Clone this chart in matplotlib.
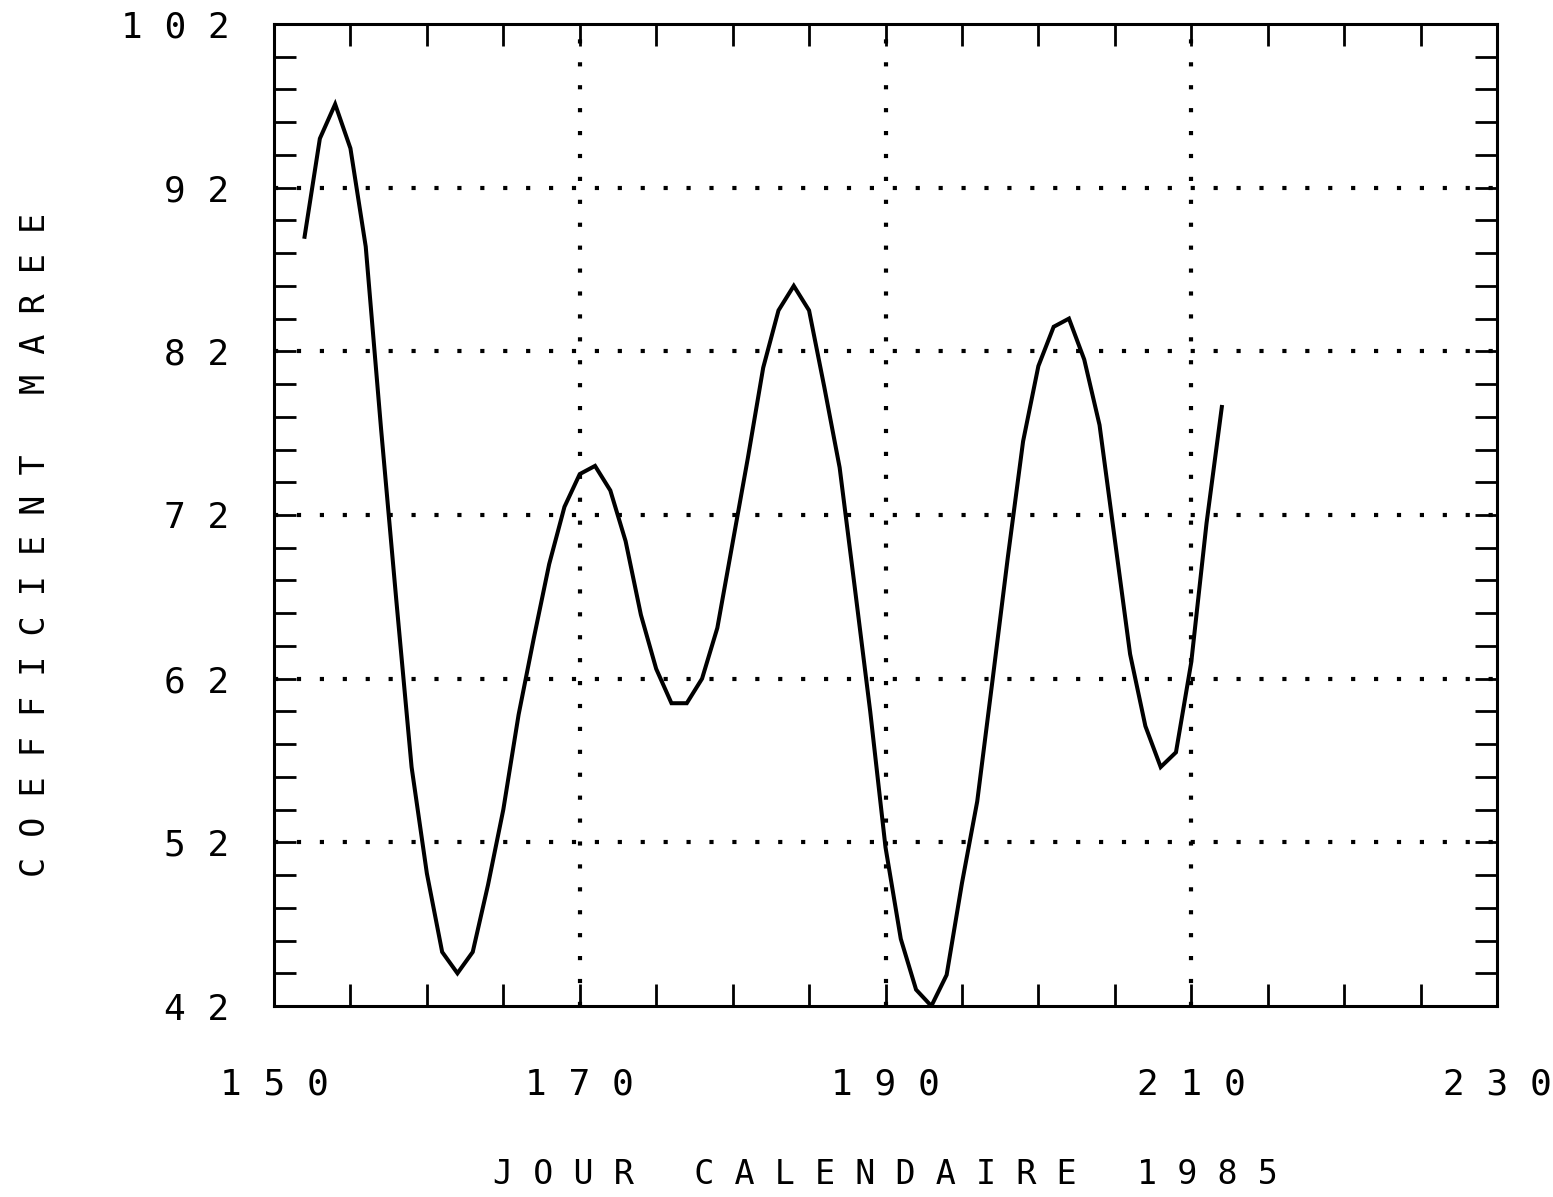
import matplotlib
matplotlib.use("Agg")
import matplotlib.pyplot as plt
from matplotlib.ticker import MultipleLocator, FixedLocator, FuncFormatter

plt.rcParams['lines.scale_dashes'] = False

days = list(range(152, 213))
coef = [89.0, 95.0, 97.1, 94.4, 88.4, 77.3, 66.8, 56.6, 50.1, 45.3,
        44.0, 45.3, 49.4, 54.0, 59.8, 64.5, 69.0, 72.5, 74.5, 75.0,
        73.5, 70.4, 65.9, 62.6, 60.5, 60.5, 62.0, 65.1, 70.3, 75.5,
        81.0, 84.5, 86.0, 84.5, 79.8, 74.9, 67.5, 60.0, 51.7, 46.1,
        43.0, 42.0, 43.9, 49.5, 54.5, 61.9, 69.4, 76.5, 81.1, 83.5,
        84.0, 81.5, 77.5, 70.5, 63.5, 59.1, 56.6, 57.5, 63.0, 71.5,
        78.6]

x_major = [150, 170, 190, 210, 230]
y_major = [42, 52, 62, 72, 82, 92, 102]
xlabel = "JOUR CALENDAIRE 1985"
ylabel = "COEFFICIENT MAREE"

def spaced(s):
    return "   ".join(" ".join(w) for w in s.split(" "))

FONT = "DejaVu Sans Mono"

fig = plt.figure(figsize=(15.53, 11.97), dpi=100)
ax = fig.add_axes([274/1553, 1 - 1006/1197, (1497-274)/1553, (1006-24)/1197])

ax.plot(days, coef, color='black', lw=2.9, solid_joinstyle='miter')

ax.set_xlim(150, 230)
ax.set_ylim(42, 102)

ax.xaxis.set_major_locator(FixedLocator(x_major))
ax.xaxis.set_minor_locator(MultipleLocator(5))
ax.yaxis.set_major_locator(FixedLocator(y_major))
ax.yaxis.set_minor_locator(MultipleLocator(2))

fmt = FuncFormatter(lambda v, p: " ".join(str(int(round(v)))))
ax.xaxis.set_major_formatter(fmt)
ax.yaxis.set_major_formatter(fmt)

for sp in ax.spines.values():
    sp.set_linewidth(2.2)

ax.tick_params(which='both', direction='in', top=True, right=True,
               length=16, width=2.0, labelsize=26)
ax.tick_params(axis='x', which='major', pad=44)
ax.tick_params(axis='y', which='major', pad=32)
for lab in ax.get_xticklabels() + ax.get_yticklabels():
    lab.set_fontfamily(FONT)

ax.grid(True, which='major', color='black', linestyle=(0, (3.0, 13.5)), lw=3.0)
ax.set_axisbelow(False)

# hide grid lines lying on the frame
for axis in (ax.xaxis, ax.yaxis):
    ticks = axis.get_major_ticks()
    ticks[0].gridline.set_visible(False)
    ticks[-1].gridline.set_visible(False)

fig.text(885/1553, 1 - 1175/1197, spaced(xlabel), fontfamily=FONT,
         fontsize=24, ha='center', va='center')
fig.text(36/1553, 1 - 545/1197, spaced(ylabel), fontfamily=FONT,
         fontsize=24, ha='center', va='center', rotation=90)

fig.savefig("out.png", dpi=100)
